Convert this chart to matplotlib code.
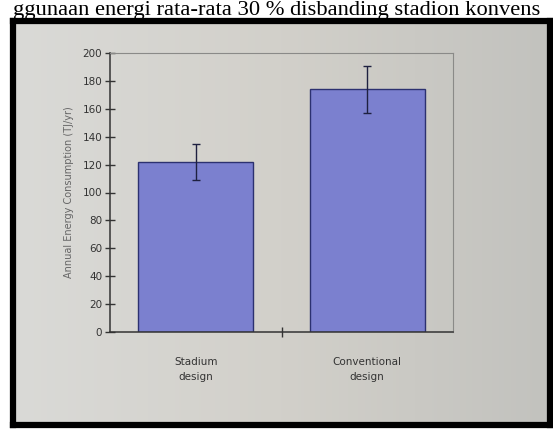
import numpy as np
import matplotlib
matplotlib.use("Agg")
import matplotlib.pyplot as plt

# data
categories = ["Stadium\ndesign", "Conventional\ndesign"]
energy = [122, 174]
errors = [13, 17]
y_ticks = list(range(0, 201, 20))
caption = "ggunaan energi rata-rata 30 % disbanding stadion konvens"

fig = plt.figure(figsize=(5.53, 4.33), dpi=100)
fig.patch.set_facecolor("white")

# photo background inside the black frame (left lighter, right darker)
bg = fig.add_axes([13 / 553, 1 - 425 / 433, 537 / 553, 404 / 433], zorder=0)
grad = np.linspace(0, 1, 256)[None, :]
bg.imshow(grad, aspect="auto", cmap=matplotlib.colors.LinearSegmentedColormap.from_list(
    "photo", ["#dadad7", "#d2d0ca", "#c2c2be"]), extent=[0, 1, 0, 1])
bg.set_xlim(0, 1)
bg.set_ylim(0, 1)
bg.set_xticks([])
bg.set_yticks([])
for s in bg.spines.values():
    s.set_linewidth(4.5)
    s.set_color("black")

fig.text(0.5, 1 - 15 / 433, caption, ha="center", va="baseline", fontsize=16.2,
         family="Liberation Serif", color="black")

ax = fig.add_axes([110 / 553, 1 - 332 / 433, 343 / 553, 279 / 433], zorder=1)
ax.set_facecolor("none")
x = np.arange(len(categories))
ax.bar(x, energy, width=0.67, color="#7b80cf", edgecolor="#2c3170", linewidth=1.0,
       yerr=errors, error_kw=dict(ecolor="#1e2040", elinewidth=1.0, capsize=3, capthick=1.0))

ax.set_xlim(-0.5, 1.5)
ax.set_ylim(0, 200)
ax.set_yticks(y_ticks)
ax.tick_params(axis="y", direction="inout", length=7, width=1, colors="#333333",
               labelsize=7.5, pad=2)
ax.set_xticks(x)
ax.set_xticklabels(categories, fontsize=7.5, color="#333333", linespacing=1.6)
ax.tick_params(axis="x", length=0, pad=18)
ax.set_xticks([0.5], minor=True)
ax.tick_params(axis="x", which="minor", direction="inout", length=7, width=1, color="#333333")

ax.set_ylabel("Annual Energy Consumption (TJ/yr)", fontsize=7, color="#666666", labelpad=6)

ax.spines["left"].set_color("#333333")
ax.spines["bottom"].set_color("#333333")
ax.spines["left"].set_linewidth(1.1)
ax.spines["bottom"].set_linewidth(1.1)
ax.spines["top"].set_color("#8a8a88")
ax.spines["right"].set_color("#8a8a88")
ax.spines["top"].set_linewidth(0.8)
ax.spines["right"].set_linewidth(0.8)

fig.savefig("out.png", dpi=100)
